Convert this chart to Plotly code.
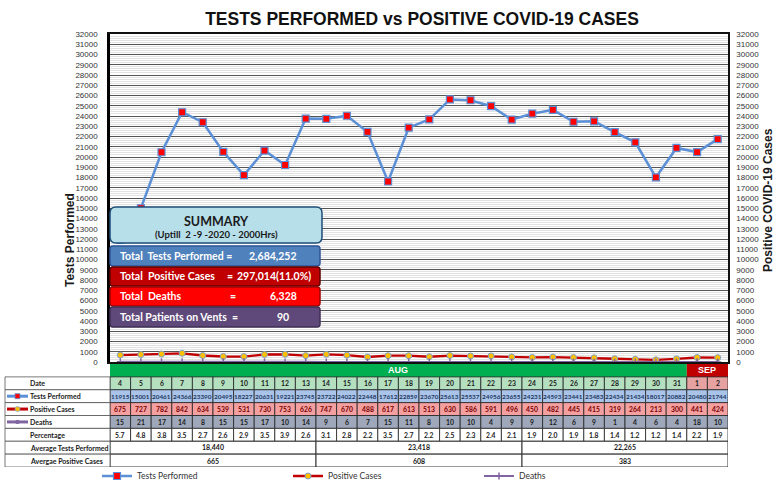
import plotly.graph_objects as go

dates = ["4","5","6","7","8","9","10","11","12","13","14","15","16","17","18","19","20","21","22","23","24","25","26","27","28","29","30","31","1","2"]
months = ["AUG"]*28 + ["SEP"]*2
tests = [11915,15001,20461,24366,23390,20495,18227,20631,19221,23745,23722,24022,22448,17612,22859,23670,25613,25537,24956,23655,24231,24593,23441,23483,22434,21434,18017,20882,20480,21744]
positive = [675,727,782,842,634,539,531,730,753,626,747,670,488,617,613,513,630,586,591,496,450,482,445,415,319,264,213,300,441,424]
deaths = [15,21,17,14,8,15,15,17,10,14,9,6,7,15,11,8,10,10,4,9,9,12,6,9,1,4,6,4,18,10]
percentage = ["5.7","4.8","3.8","3.5","2.7","2.6","2.9","3.5","3.9","2.6","3.1","2.8","2.2","3.5","2.7","2.2","2.5","2.3","2.4","2.1","1.9","2.0","1.9","1.8","1.4","1.2","1.2","1.4","2.2","1.9"]
avg_tests = ["18,440","23,418","22,265"]
avg_positive = ["665","608","383"]
row_labels = ["Date","Tests Performed","Positive Cases","Deaths","Percentage","Average Tests Performed","Avergae Positive Cases"]
summary_title = "SUMMARY"
summary_sub = "(Uptill&nbsp; 2 -9 -2020 - 2000Hrs)"
summary_labels = ["Total&nbsp; Tests Performed =", "Total&nbsp; Positive Cases", "Total&nbsp; Deaths", "Total Patients on Vents&nbsp; ="]
summary_values = ["2,684,252", "297,014(11.0%)", "6,328", "90"]

n = len(dates)
idx = list(range(n))

# pixel -> paper helpers (plot area: x 110..728, y 34..470)
L, R, T, B = 110, 51, 34, 14
W, H = 779, 484
PW, PH = W - L - R, H - T - B
def px(x):
    return (x - L) / PW
def py(y):
    return (H - B - y) / PH

BLUE = "#5b8fd6"
FONT = "Liberation Sans"
TFONT = "Lato"

fig = go.Figure()

fig.add_trace(go.Scatter(x=idx, y=tests, name="Tests Performed", mode="lines+markers",
                         line=dict(color=BLUE, width=2.5),
                         marker=dict(symbol="square", size=7, color="#ff0000", line=dict(color=BLUE, width=1.2))))
fig.add_trace(go.Scatter(x=idx, y=positive, name="Positive Cases", mode="lines+markers",
                         line=dict(color="#c00000", width=2.3),
                         marker=dict(symbol="circle", size=6, color="#ffc000", line=dict(color="#7f9fc9", width=1))))
fig.add_trace(go.Scatter(x=idx, y=deaths, name="Deaths", mode="lines+markers",
                         line=dict(color="#8064a2", width=2),
                         marker=dict(symbol="cross-thin-open", size=5, color="#8064a2", line=dict(color="#8064a2", width=1.5))))
# right axis carrier (invisible)
fig.add_trace(go.Scatter(x=idx, y=tests, yaxis="y2", mode="lines", line=dict(width=0),
                         hoverinfo="skip", showlegend=False, opacity=0))

shapes = []
annotations = []

# ---- Table (x = category index, y3 = rows) ----
row_fill = {1: "#b4e0c0", 2: "#a9c4e8", 3: "#f4a0a0", 4: "#9ea8ba", 5: "#ffffff"}
row_color = {1: "#1a1a1a", 2: "#1f3864", 3: "#7a0000", 4: "#1a1a1a", 5: "#1a1a1a"}
row_vals = {1: dates, 2: [str(v) for v in tests], 3: [str(v) for v in positive],
            4: [str(v) for v in deaths], 5: percentage}

# month bar
month_spans = []
start = 0
for i in range(1, n + 1):
    if i == n or months[i] != months[start]:
        month_spans.append((months[start], start, i - 1))
        start = i
for m, a, b in month_spans:
    col = "#00b050" if m == "AUG" else "#c00000"
    shapes.append(dict(type="rect", xref="x", yref="y3", x0=a - 0.5, x1=b + 0.5, y0=0, y1=1,
                       fillcolor=col, line=dict(color=col, width=0), layer="above"))
    annotations.append(dict(xref="x", yref="y3", x=(a + b) / 2, y=0.5, text="<b>%s</b>" % m,
                            showarrow=False, font=dict(family=FONT, size=9, color="white")))

for r in range(1, 6):
    for i in idx:
        fill = row_fill[r]
        if r == 1 and months[i] == "SEP":
            fill = "#e6a1a1"
        shapes.append(dict(type="rect", xref="x", yref="y3", x0=i - 0.5, x1=i + 0.5, y0=r, y1=r + 1,
                           fillcolor=fill, line=dict(color="#222", width=0.8), layer="above"))
        annotations.append(dict(xref="x", yref="y3", x=i, y=r + 0.5, text=row_vals[r][i], showarrow=False,
                                font=dict(family=TFONT, size=6.8 if r != 2 else 6.4, color=row_color[r],
                                          weight="bold")))

for r, vals in ((6, avg_tests), (7, avg_positive)):
    for k, v in enumerate(vals):
        a, b = k * 10, k * 10 + 9
        shapes.append(dict(type="rect", xref="x", yref="y3", x0=a - 0.5, x1=b + 0.5, y0=r, y1=r + 1,
                           fillcolor="white", line=dict(color="#333", width=1), layer="above"))
        annotations.append(dict(xref="x", yref="y3", x=(a + b) / 2, y=r + 0.5, text=v, showarrow=False,
                                font=dict(family=TFONT, size=7, color="#1a1a1a", weight="bold")))

# label column
for r, lab in enumerate(row_labels, start=1):
    shapes.append(dict(type="rect", xref="paper", yref="y3", x0=px(5), x1=px(110), y0=r, y1=r + 1,
                       fillcolor="white", line=dict(color="#555", width=0.8), layer="above"))
    annotations.append(dict(xref="paper", yref="y3", x=px(28), y=r + 0.5, text=lab, xanchor="left",
                            showarrow=False, font=dict(family=TFONT, size=7, color="#1a1a1a", weight="bold")))

# legend icons in label column
icon_specs = [(2, BLUE, "square", "#ff0000", BLUE), (3, "#c00000", "circle", "#ffc000", "#7f9fc9"),
              (4, "#8064a2", "square", "#8064a2", "#8064a2")]
for r, lc, sym, mc, ec in icon_specs:
    shapes.append(dict(type="line", xref="paper", yref="y3", x0=px(7), x1=px(28), y0=r + 0.5, y1=r + 0.5,
                       line=dict(color=lc, width=3), layer="above"))
    s = 2.5 if r != 4 else 1.5
    shapes.append(dict(type="rect" if sym == "square" else "circle", xref="paper", yref="y3",
                       x0=px(17.5 - s), x1=px(17.5 + s), y0=r + 0.5 - s / 12.9, y1=r + 0.5 + s / 12.9,
                       fillcolor=mc, line=dict(color=ec, width=0.8), layer="above"))

# ---- Summary box ----
def rrect(x0, y0, x1, y1, rad=4):
    rx, ry = rad / PW, rad / PH
    X0, X1 = px(x0), px(x1)
    Y0, Y1 = py(y1), py(y0)
    return (f"M {X0+rx},{Y0} L {X1-rx},{Y0} Q {X1},{Y0} {X1},{Y0+ry} L {X1},{Y1-ry} Q {X1},{Y1} {X1-rx},{Y1} "
            f"L {X0+rx},{Y1} Q {X0},{Y1} {X0},{Y1-ry} L {X0},{Y0+ry} Q {X0},{Y0} {X0+rx},{Y0} Z")

boxes = [((110, 207, 322, 243), "#b7dfea", "#1f4e79", 6),
         ((110, 246, 320, 266), "#4f81bd", "#2f5597", 3),
         ((110, 267, 320, 286), "#c00000", "#600000", 3),
         ((110, 287, 320, 306), "#ff0000", "#a00000", 3),
         ((110, 307, 320, 327), "#5f497a", "#3f2f55", 3)]
for (x0, y0, x1, y1), fc, lc, rad in boxes:
    shapes.append(dict(type="path", xref="paper", yref="paper", path=rrect(x0, y0, x1, y1, rad),
                       fillcolor=fc, line=dict(color=lc, width=1.5), layer="above"))

def ann(x, y, text, size=10.5, color="white", anchor="left", bold=True):
    annotations.append(dict(xref="paper", yref="paper", x=px(x), y=py(y), text=text, xanchor=anchor,
                            yanchor="middle", showarrow=False,
                            font=dict(family=TFONT, size=size, color=color, weight="bold" if bold else "normal")))

ann(216, 221, summary_title, size=12.5, color="#1a1a1a", anchor="center")
ann(216, 235, summary_sub, size=9.5, color="#1a1a1a", anchor="center")
ann(118, 256, summary_labels[0])
ann(247, 256, summary_values[0])
ann(118, 276, summary_labels[1])
ann(225, 276, "=")
ann(235, 276, summary_values[1])
ann(118, 296, summary_labels[2])
ann(228, 296, "=")
ann(299, 296, summary_values[2], anchor="right")
ann(118, 317, summary_labels[3])
ann(291, 317, summary_values[3], anchor="right")

# axis titles
annotations.append(dict(xref="paper", yref="paper", x=px(70), y=py(240), text="<b>Tests Performed</b>",
                        xanchor="center", yanchor="middle",
                        textangle=-90, showarrow=False, font=dict(family=FONT, size=12, color="#1a1a1a")))
annotations.append(dict(xref="paper", yref="paper", x=px(768), y=py(200), text="<b>Positive COVID-19 Cases</b>",
                        xanchor="center", yanchor="middle",
                        textangle=-90, showarrow=False, font=dict(family=FONT, size=12, color="#1a1a1a")))

dom_chart = [py(362), 1]
dom_table = [py(467), py(364)]

fig.update_layout(
    width=W, height=H,
    margin=dict(l=L, r=R, t=T, b=B, autoexpand=False),
    paper_bgcolor="white", plot_bgcolor="white",
    title=dict(text="<b>TESTS PERFORMED vs POSITIVE COVID-19 CASES</b>", x=422 / W, xanchor="center",
               y=1 - 19 / H, yanchor="middle", font=dict(family=FONT, size=17.5, color="#111")),
    xaxis=dict(range=[-0.5, n - 0.5], showticklabels=False, ticks="", showgrid=False, zeroline=False,
               showline=True, mirror=True, linecolor="#111", linewidth=1.5, anchor="y", fixedrange=True),
    yaxis=dict(domain=dom_chart, range=[0, 32000], dtick=1000, tickformat="d",
               tickfont=dict(family=FONT, size=8, color="#333"),
               gridcolor="#555", gridwidth=1, zeroline=False,
               minor=dict(dtick=200, showgrid=True, gridcolor="#e2e2e2", gridwidth=1),
               showline=True, linecolor="#000", linewidth=2.5, ticks="", ticklabelstandoff=8),
    yaxis2=dict(domain=dom_chart, range=[0, 32000], dtick=1000, tickformat="d", overlaying="y", side="right",
                anchor="x", tickfont=dict(family=FONT, size=8, color="#333"), showgrid=False, zeroline=False,
                showline=True, linecolor="#111", linewidth=1.5, ticks="", ticklabelstandoff=5),
    yaxis3=dict(domain=dom_table, range=[8, 0], visible=False, anchor="x", fixedrange=True),
    legend=dict(orientation="h", x=px(97), xanchor="left", y=py(476), yanchor="middle",
                font=dict(family=TFONT, size=8.5, color="#333"), entrywidth=146, entrywidthmode="pixels",
                bgcolor="rgba(0,0,0,0)", tracegroupgap=0, itemwidth=30),
    shapes=shapes, annotations=annotations, showlegend=True,
)

fig.write_html("out.html", config={"displayModeBar": False},
               post_script="document.body.style.margin='0';document.body.style.padding='0';")
